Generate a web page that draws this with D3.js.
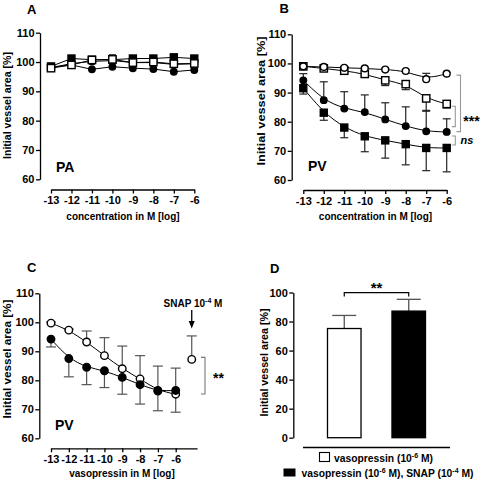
<!DOCTYPE html>
<html><head><meta charset="utf-8">
<script src="https://cdn.jsdelivr.net/npm/d3@7"></script>
<style>
html,body{margin:0;padding:0;background:#fff;}
text{font-family:"Liberation Sans",Arial,sans-serif;font-weight:bold;fill:#000;}
</style></head>
<body><svg id="c" width="483" height="482"></svg>
<script>
// ---------- DATA ----------
const concTicks = [-13, -12, -11, -10, -9, -8, -7, -6];
const yTicksAB = [60, 70, 80, 90, 100, 110];
const yTicksD = [0, 20, 40, 60, 80, 100];

// Panel A (PA)
const aFilledCircle = [98.3, 99.0, 97.5, 98.4, 97.9, 97.6, 96.7, 97.3];
const aFilledSquare = [98.5, 101.2, 100.8, 100.8, 101.2, 101.2, 101.6, 101.2];
const aOpenCircle   = [98.0, 99.5, 100.2, 100.5, 99.8, 99.8, 99.2, 99.4];
const aOpenSquare   = [97.9, 99.0, 100.7, 100.9, 99.8, 100.0, 99.4, 99.5];
const aOpenSquareSem = [0.5, 0.5, 0.8, 1.6, 0.5, 0.5, 0.8, 0.5];

// Panel B (PV)
const bOpenCircle    = [99.0, 98.8, 98.5, 98.3, 97.9, 97.4, 94.6, 96.5];
const bOpenCircleSem = [0.4, 0.4, 0.4, 0.4, 0.4, 0.4, 2.0, 0.4];
const bOpenSquare    = [99.0, 98.3, 97.5, 96.4, 94.2, 92.9, 88.0, 86.1];
const bOpenSquareSem = [0.4, 0.5, 0.8, 0.8, 1.8, 1.9, 4.4, 1.4];
const bFilledCircle    = [94.2, 87.4, 84.5, 83.3, 80.8, 78.5, 76.7, 76.5];
const bFilledCircleSem = [2.3, 6.3, 5.8, 5.9, 5.7, 6.6, 7.2, 4.5];
const bFilledSquare    = [91.5, 83.1, 78.0, 75.0, 73.6, 72.3, 71.0, 71.0];
const bFilledSquareSem = [2.0, 2.6, 3.5, 5.3, 6.1, 7.1, 7.8, 8.2];

// Panel C (PV, vasopressin +/- SNAP)
const cOpenCircle    = [99.7, 97.3, 93.2, 88.5, 84.0, 80.5, 76.5, 75.2];
const cOpenCircleSem = [0.4, 0.4, 3.8, 6.2, 7.8, 8.0, 8.4, 9.0];
const cFilledCircle    = [94.2, 87.5, 84.5, 83.3, 81.0, 78.5, 76.3, 76.5];
const cFilledCircleSem = [2.7, 6.3, 6.0, 5.8, 5.8, 6.7, 6.8, 7.5];
const cSnapValue = 87.2;
const cSnapSem = 8.1;

// Panel D
const dValues = [75.2, 87.2];
const dSem = [9.0, 8.1];

// ---------- DRAWING ----------
const svg = d3.select("#c");
const FONT = '"Liberation Sans",Arial,sans-serif';
const fmt = d => String(d);

function styleAxis(g, size) {
  g.attr("font-family", FONT).attr("font-size", size).attr("font-weight", "bold");
  g.selectAll("path.domain").attr("stroke", "#000").attr("stroke-width", 1.3);
  g.selectAll(".tick line").attr("stroke", "#000").attr("stroke-width", 1.3);
  g.selectAll(".tick text").attr("fill", "#000");
}

function yTitle(x, cy, len) {
  svg.append("text").attr("transform", `translate(${x},${cy}) rotate(-90)`)
    .attr("text-anchor", "middle").attr("font-size", 10)
    .attr("textLength", len).attr("lengthAdjust", "spacingAndGlyphs")
    .text("Initial vessel area [%]");
}

function txt(x, y, s, size, anchor, extra) {
  const t = svg.append("text").attr("x", x).attr("y", y).attr("font-size", size)
    .attr("text-anchor", anchor || "start").text(s);
  if (extra) extra(t);
  return t;
}

function errBars(g, xs, ys, vals, sems, dir, cap, color) {
  vals.forEach((v, i) => {
    const x0 = xs(concTicks[i]);
    const yEnd = ys(v + dir * sems[i]);
    g.append("line").attr("x1", x0).attr("x2", x0).attr("y1", ys(v)).attr("y2", yEnd)
      .attr("stroke", color).attr("stroke-width", 1.2);
    g.append("line").attr("x1", x0 - cap / 2).attr("x2", x0 + cap / 2).attr("y1", yEnd).attr("y2", yEnd)
      .attr("stroke", color).attr("stroke-width", 1.2);
  });
}

function series(g, xs, ys, vals, shape, filled, size, curve) {
  const line = d3.line().x((d, i) => xs(concTicks[i])).y(d => ys(d)).curve(curve);
  g.append("path").attr("d", line(vals)).attr("fill", "none").attr("stroke", "#000").attr("stroke-width", 1);
  vals.forEach((v, i) => {
    const cx = xs(concTicks[i]), cy = ys(v);
    if (shape === "square") {
      g.append("rect").attr("x", cx - size / 2).attr("y", cy - size / 2).attr("width", size).attr("height", size)
        .attr("fill", filled ? "#000" : "#fff").attr("stroke", "#000").attr("stroke-width", 1.4);
    } else {
      g.append("circle").attr("cx", cx).attr("cy", cy).attr("r", size / 2)
        .attr("fill", filled ? "#000" : "#fff").attr("stroke", "#000").attr("stroke-width", 1.4);
    }
  });
}

function concPanel(xs, ys, yAxisX, xAxisY, xAxisScale) {
  const gy = svg.append("g").attr("transform", `translate(${yAxisX},0)`)
    .call(d3.axisLeft(ys).tickValues(yTicksAB).tickFormat(fmt).tickSize(4).tickSizeOuter(0).tickPadding(1.5));
  styleAxis(gy, 11);
  const gx = svg.append("g").attr("transform", `translate(0,${xAxisY})`)
    .call(d3.axisBottom(xAxisScale).tickValues(concTicks).tickFormat(fmt).tickSize(4).tickSizeOuter(0).tickPadding(3));
  styleAxis(gx, 11);
}

// ---- Panel A ----
{
  const x = d3.scaleLinear().domain([-13, -6]).range([51, 194.3]);
  const y = d3.scaleLinear().domain([60, 110]).range([179.3, 32.7]);
  concPanel(x, y, 40, 189.5, x);
  const g = svg.append("g");
  errBars(g, x, y, aOpenSquare, aOpenSquareSem, 1, 7, "#333");
  series(g, x, y, aFilledCircle, "circle", true, 6.5, d3.curveLinear);
  series(g, x, y, aFilledSquare, "square", true, 7, d3.curveLinear);
  series(g, x, y, aOpenCircle, "circle", false, 6.5, d3.curveLinear);
  series(g, x, y, aOpenSquare, "square", false, 7.3, d3.curveLinear);
  txt(27, 13.5, "A", 13);
  txt(56, 171.5, "PA", 14);
  txt(123, 220, "concentration in M [log]", 10, "middle");
  yTitle(10.5, 105.5, 107);
}

// ---- Panel B ----
{
  const x = d3.scaleLinear().domain([-13, -6]).range([303.3, 446.7]);
  const y = d3.scaleLinear().domain([60, 110]).range([180, 34.3]);
  concPanel(x, y, 291.7, 190, x);
  const g = svg.append("g");
  errBars(g, x, y, bFilledSquare, bFilledSquareSem, -1, 8, "#222");
  errBars(g, x, y, bFilledCircle, bFilledCircleSem, 1, 8, "#222");
  errBars(g, x, y, bOpenSquare, bOpenSquareSem, -1, 8, "#222");
  errBars(g, x, y, bOpenCircle, bOpenCircleSem, 1, 8, "#222");
  series(g, x, y, bFilledSquare, "square", true, 7, d3.curveBasis);
  series(g, x, y, bFilledCircle, "circle", true, 6.5, d3.curveBasis);
  series(g, x, y, bOpenSquare, "square", false, 7.3, d3.curveBasis);
  series(g, x, y, bOpenCircle, "circle", false, 6.8, d3.curveBasis);
  // significance brackets
  const br = (xv, y1, y2, w) => {
    svg.append("path").attr("d", `M${xv - w},${y(y1)}H${xv}V${y(y2)}H${xv - w}`)
      .attr("fill", "none").attr("stroke", "#999").attr("stroke-width", 1.1);
  };
  br(460.5, 96.0, 76.6, 4);
  br(455.3, 85.3, 78.3, 3.5);
  br(455.3, 75.1, 72.0, 3.5);
  txt(471.5, 126, "***", 14, "middle");
  txt(467, 143.5, "ns", 11, "middle", t => t.attr("font-style", "italic"));
  txt(279.5, 13, "B", 13);
  txt(308, 170.7, "PV", 14);
  txt(375.5, 220, "concentration in M [log]", 10, "middle");
  yTitle(265, 101, 129);
}

// ---- Panel C ----
{
  const x = d3.scaleLinear().domain([-13, -6]).range([51, 175.7]);
  const y = d3.scaleLinear().domain([60, 110]).range([438.3, 293.3]);
  const xAxisScale = x.copy().domain([-13, -4.8]).range([x(-13), x(-4.8)]);
  concPanel(x, y, 39.3, 448.3, xAxisScale);
  const g = svg.append("g");
  errBars(g, x, y, cFilledCircle, cFilledCircleSem, -1, 10, "#555");
  errBars(g, x, y, cOpenCircle, cOpenCircleSem, 1, 10, "#555");
  series(g, x, y, cOpenCircle, "circle", false, 7.5, d3.curveBasis);
  series(g, x, y, cFilledCircle, "circle", true, 7.5, d3.curveBasis);
  // SNAP point
  const sx = x(-5.1);
  g.append("line").attr("x1", sx).attr("x2", sx).attr("y1", y(cSnapValue)).attr("y2", y(cSnapValue + cSnapSem))
    .attr("stroke", "#555").attr("stroke-width", 1.2);
  g.append("line").attr("x1", sx - 5).attr("x2", sx + 5).attr("y1", y(cSnapValue + cSnapSem)).attr("y2", y(cSnapValue + cSnapSem))
    .attr("stroke", "#555").attr("stroke-width", 1.2);
  g.append("circle").attr("cx", sx).attr("cy", y(cSnapValue)).attr("r", 3.75)
    .attr("fill", "#fff").attr("stroke", "#000").attr("stroke-width", 1.4);
  // arrow
  svg.append("line").attr("x1", sx).attr("x2", sx).attr("y1", 310).attr("y2", 322).attr("stroke", "#000").attr("stroke-width", 1.3);
  svg.append("path").attr("d", `M${sx - 3},${321}L${sx + 3},${321}L${sx},${328.5}Z`).attr("fill", "#000");
  const snap = txt(193, 306.5, "", 10, "middle");
  snap.append("tspan").text("SNAP 10");
  snap.append("tspan").attr("font-size", 7).attr("dy", -4).text("-4");
  snap.append("tspan").attr("dy", 4).text(" M");
  // bracket
  svg.append("path").attr("d", `M201,${y(87.9)}H205V${y(75.3)}H201`)
    .attr("fill", "none").attr("stroke", "#777").attr("stroke-width", 1.1);
  txt(218.5, 382.5, "**", 14, "middle");
  txt(27, 272, "C", 13);
  txt(55, 430, "PV", 14);
  txt(122, 477, "vasopressin in M [log]", 10, "middle");
  yTitle(10.5, 359, 119);
}

// ---- Panel D ----
{
  const y = d3.scaleLinear().domain([0, 100]).range([437.7, 292.5]);
  const x = d3.scaleBand().domain([0, 1]).range([303, 450]).paddingInner(0.48).paddingOuter(0.38);
  const gy = svg.append("g").attr("transform", "translate(293.3,0)")
    .call(d3.axisLeft(y).tickValues(yTicksD).tickFormat(fmt).tickSize(4).tickSizeOuter(0).tickPadding(1.5));
  styleAxis(gy, 11);
  svg.append("line").attr("x1", 303).attr("x2", 450).attr("y1", 447.5).attr("y2", 447.5)
    .attr("stroke", "#000").attr("stroke-width", 1.3);
  dValues.forEach((v, i) => {
    const cx = x(i) + x.bandwidth() / 2;
    svg.append("line").attr("x1", cx).attr("x2", cx).attr("y1", y(v)).attr("y2", y(v + dSem[i]))
      .attr("stroke", "#555").attr("stroke-width", 1.3);
    svg.append("line").attr("x1", cx - 12).attr("x2", cx + 12).attr("y1", y(v + dSem[i])).attr("y2", y(v + dSem[i]))
      .attr("stroke", "#555").attr("stroke-width", 1.3);
    svg.append("rect").attr("x", x(i)).attr("y", y(v)).attr("width", x.bandwidth()).attr("height", y(0) - y(v))
      .attr("fill", i === 0 ? "#fff" : "#000").attr("stroke", "#000").attr("stroke-width", 1.3);
  });
  const c0 = x(0) + x.bandwidth() / 2, c1 = x(1) + x.bandwidth() / 2;
  svg.append("path").attr("d", `M${c0},296.5V292.7H${c1}V296.5`).attr("fill", "none").attr("stroke", "#000").attr("stroke-width", 1.2);
  txt((c0 + c1) / 2, 293, "**", 15, "middle");
  txt(270, 273, "D", 13);
  yTitle(268.3, 362.5, 108);
  // legend
  svg.append("rect").attr("x", 319.5).attr("y", 452.5).attr("width", 10).attr("height", 9)
    .attr("fill", "#fff").attr("stroke", "#000").attr("stroke-width", 1.1);
  const l1 = txt(334, 461.5, "", 10.3);
  l1.append("tspan").text("vasopressin (10");
  l1.append("tspan").attr("font-size", 7).attr("dy", -4).text("-6");
  l1.append("tspan").attr("dy", 4).text(" M)");
  svg.append("rect").attr("x", 283.5).attr("y", 468.5).attr("width", 12).attr("height", 8).attr("fill", "#000");
  const l2 = txt(301.5, 477, "", 10.3);
  l2.append("tspan").text("vasopressin (10");
  l2.append("tspan").attr("font-size", 7).attr("dy", -4).text("-6");
  l2.append("tspan").attr("dy", 4).text(" M), SNAP (10");
  l2.append("tspan").attr("font-size", 7).attr("dy", -4).text("-4");
  l2.append("tspan").attr("dy", 4).text(" M)");
}
</script></body></html>
